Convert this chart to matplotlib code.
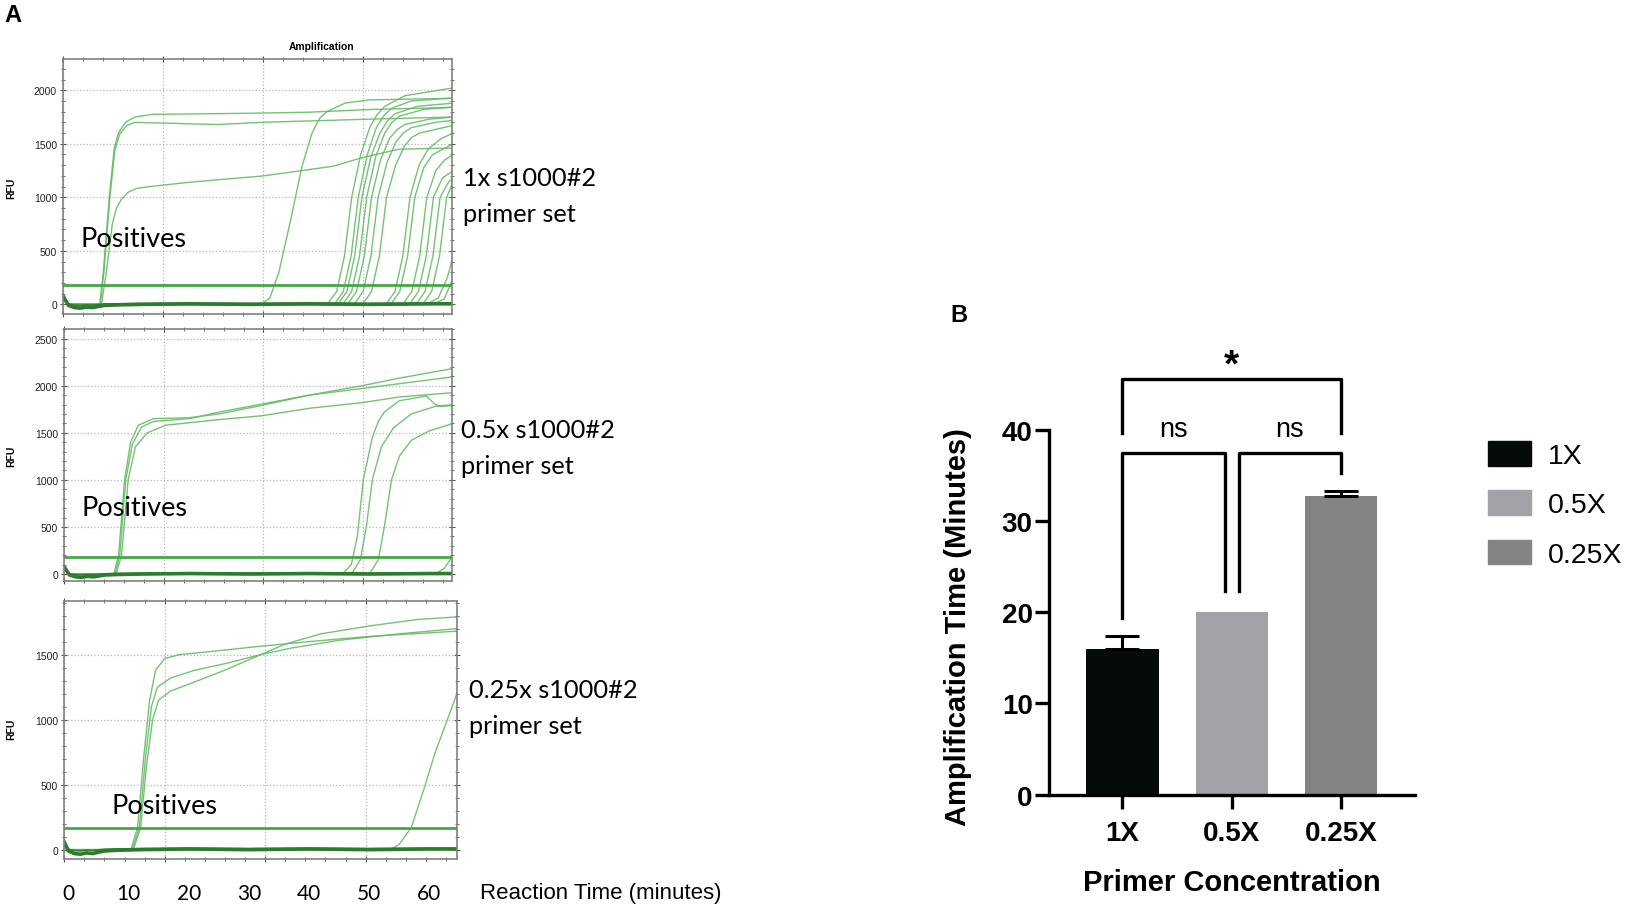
import numpy as np
import matplotlib
matplotlib.use('Agg')
import matplotlib.pyplot as plt
import matplotlib.transforms as mtransforms
from matplotlib.ticker import FixedLocator, MultipleLocator
from matplotlib.patches import Patch

# ---------------- data ----------------
# panel A: amplification curves as (minutes, RFU) points
curves_1x = [
    [(0, 0), (5.2, 0), (5.8, 300), (6.8, 1000), (7.6, 1450), (8.3, 1600), (9.5, 1700), (11, 1750), (14, 1775), (30, 1785), (40, 1795), (50, 1820), (64, 1840)],
    [(0, 0), (5.3, 0), (5.9, 300), (6.9, 1000), (7.7, 1430), (8.5, 1590), (9.7, 1670), (11, 1700), (18, 1690), (25, 1680), (32, 1700), (50, 1730), (64, 1750)],
    [(0, 0), (5.5, 0), (6.3, 300), (7.3, 750), (8, 900), (8.8, 980), (10, 1050), (11.5, 1085), (13.5, 1100), (20, 1140), (32.4, 1200), (44, 1290), (48.8, 1370), (55, 1450), (64, 1460)],
    [(0, 0), (32, 0), (33.5, 60), (35, 300), (37, 800), (38.8, 1280), (40.5, 1600), (41.8, 1740), (43, 1800), (46, 1880), (50, 1910), (64, 1925)],
    [(0, 0), (43, 0), (44.6, 120), (45.9, 450), (47.1, 1000), (48.6, 1400), (50.1, 1650), (51.3, 1770), (52.6, 1850), (56, 1950), (64, 2022)],
    [(0, 0), (44.2, 0), (45.7, 120), (47, 450), (48.2, 1000), (49.7, 1400), (51.2, 1650), (52.4, 1760), (53.7, 1830), (57, 1900), (64, 1928)],
    [(0, 0), (44.8, 0), (46.3, 120), (47.6, 450), (48.8, 1000), (50.3, 1380), (51.8, 1600), (53, 1710), (54.3, 1780), (58, 1850), (64, 1880)],
    [(0, 0), (45.6, 0), (47.1, 120), (48.4, 450), (49.6, 1000), (51.1, 1380), (52.6, 1600), (53.8, 1700), (55.1, 1760), (59, 1820), (64, 1844)],
    [(0, 0), (46.4, 0), (47.9, 120), (49.2, 450), (50.4, 1000), (51.9, 1350), (53.4, 1550), (54.6, 1630), (55.9, 1680), (60, 1730), (64, 1750)],
    [(0, 0), (47.5, 0), (49, 120), (50.3, 450), (51.5, 1000), (53, 1330), (54.5, 1520), (55.7, 1600), (57, 1650), (61, 1700), (64, 1720)],
    [(0, 0), (48.9, 0), (50.4, 120), (51.7, 450), (52.9, 1000), (54.4, 1300), (55.9, 1480), (57.1, 1560), (58.4, 1600), (64, 1672)],
    [(0, 0), (52.8, 0), (54.3, 120), (55.6, 450), (56.8, 1000), (58.3, 1300), (59.8, 1450), (62, 1550), (64, 1600)],
    [(0, 0), (53.6, 0), (55.1, 120), (56.4, 450), (57.6, 1000), (59.1, 1280), (60.6, 1400), (64, 1500)],
    [(0, 0), (55.6, 0), (57.1, 120), (58.4, 450), (59.6, 1000), (61.1, 1250), (62.6, 1350), (64, 1400)],
    [(0, 0), (56.7, 0), (58.2, 120), (59.5, 450), (60.7, 1000), (62.2, 1180), (64, 1250)],
    [(0, 0), (57.8, 0), (59.3, 120), (60.6, 450), (61.8, 1000), (63.3, 1150), (64, 1180)],
    [(0, 0), (58.9, 0), (60.4, 120), (61.7, 450), (62.9, 1000), (64, 1150)],
    [(0, 0), (59.5, 0), (61.5, 60), (63, 250), (64, 450)],
    [(0, 0), (60.5, 0), (62.5, 50), (64, 250)],
]
curves_05x = [
    [(0, 0), (7.4, 0), (8.2, 200), (9.2, 1000), (10.2, 1400), (11.5, 1580), (14, 1650), (20, 1660), (25, 1700), (32, 1790), (40, 1900), (48.8, 2000), (55, 2080), (64, 2183)],
    [(0, 0), (7.6, 0), (8.4, 200), (9.4, 1000), (10.5, 1380), (12, 1560), (14, 1620), (20, 1650), (25, 1720), (30, 1780), (40, 1900), (50, 1980), (64, 2095)],
    [(0, 0), (7.8, 0), (8.7, 200), (9.8, 1000), (11, 1350), (13, 1500), (16, 1580), (25, 1640), (32, 1680), (40, 1760), (48.8, 1820), (55, 1880), (64, 1926)],
    [(0, 0), (45.5, 0), (47, 100), (48, 400), (49, 1000), (50.5, 1450), (51.5, 1620), (52.5, 1720), (55, 1840), (59.5, 1890), (61, 1800), (62, 1780), (64, 1790)],
    [(0, 0), (47, 0), (48.5, 150), (49.5, 500), (50.5, 1000), (52, 1350), (54, 1550), (57, 1700), (61, 1780), (64, 1800)],
    [(0, 0), (50, 0), (51.5, 150), (52.5, 500), (53.7, 1000), (55, 1250), (57, 1420), (60, 1520), (64, 1600)],
    [(0, 0), (61, 0), (62.5, 60), (64, 200)],
]
curves_025x = [
    [(0, 0), (10.4, 0), (11.5, 170), (12.5, 700), (13.5, 1150), (14.5, 1380), (16, 1470), (18.5, 1500), (25, 1530), (31, 1560), (40, 1600), (50, 1640), (64.6, 1680)],
    [(0, 0), (10.6, 0), (11.8, 170), (12.8, 700), (13.8, 1100), (14.8, 1250), (17, 1320), (21, 1380), (26, 1430), (32, 1500), (36, 1580), (42, 1660), (50, 1720), (58, 1770), (64.6, 1790)],
    [(0, 0), (10.8, 0), (12, 170), (13, 650), (14, 1000), (15, 1150), (17, 1220), (21, 1290), (26, 1380), (32, 1500), (37, 1550), (45, 1610), (55, 1660), (64.6, 1700)],
    [(0, 0), (53.5, 0), (55, 40), (57, 170), (59, 450), (61, 750), (63, 1000), (64.6, 1200)],
]
# flat negatives / baseline drift near 0
base_t = [-0.8, 0, 1, 2, 3, 4, 5, 6, 8, 12, 20, 30, 40, 50, 60, 64.6]
base_rfu = [70, -10, -30, -35, -25, -30, -20, -10, -5, 0, 5, 0, 5, 0, 5, 5]
thresholds = [177, 177, 170]
panel_labels = ['1x s1000#2', '0.5x s1000#2', '0.25x s1000#2']
minute_ticks = [0, 10, 20, 30, 40, 50, 60]

# panel B: amplification time by primer concentration
conc = ['1X', '0.5X', '0.25X']
amp_time = [16.0, 20.0, 32.7]
amp_err = [1.4, 0.0, 0.6]
bar_colors = ['#060a0b', '#a2a2a7', '#838383']

# ---------------- layout helpers (pixel positions in the 1626x912 image) ----------------
W, H = 1626, 912


def box(x0, y0, x1, y1):
    return [x0 / W, 1 - y1 / H, (x1 - x0) / W, (y1 - y0) / H]


def fxy(x, y):
    return x / W, 1 - y / H


plt.rcParams['font.family'] = ['Liberation Sans', 'DejaVu Sans']
fig = plt.figure(figsize=(W / 100, H / 100), dpi=100)
fig.patch.set_facecolor('white')

green = '#66bb66'
thr_green = '#48a648'
dark_green = '#2b7d2b'

panels = [
    (box(63.3, 60.0, 452.1, 315.0), curves_1x, (-0.85, 63.8), (-90, 2292), 16.6, 2000),
    (box(64.3, 330.0, 452.1, 581.8), curves_05x, (-0.85, 63.8), (-72, 2602), 16.6, 2500),
    (box(64.3, 602.3, 456.8, 860.0), curves_025x, (-0.68, 64.57), (-72, 1910), 16.7, 1500),
]
axes_a = []
for i, (rect, curves, xl, yl, step, ymax) in enumerate(panels):
    ax = fig.add_axes(rect)
    for c in curves:
        t, v = zip(*c)
        ax.plot(t, v, color=green, lw=1.0, alpha=0.9)
    ax.axhline(thresholds[i], color=thr_green, lw=2.0)
    ax.plot(base_t, base_rfu, color=dark_green, lw=2.6)
    ax.plot(base_t, [b * 0.5 + 8 for b in base_rfu], color=dark_green, lw=1.2)
    ax.set_xlim(*xl)
    ax.set_ylim(*yl)
    ax.xaxis.set_major_locator(FixedLocator(np.arange(xl[0], xl[1], step)))
    ax.xaxis.set_minor_locator(FixedLocator(np.arange(xl[0], xl[1], step / 5)))
    ax.yaxis.set_major_locator(FixedLocator(np.arange(0, ymax + 1, 500)))
    ax.yaxis.set_minor_locator(MultipleLocator(100))
    ax.set_xticklabels([])
    ax.grid(True, which='major', ls=':', color='#b5b5b5', lw=0.9)
    ax.tick_params(which='both', direction='inout', top=True, right=True,
                   colors='#555555', labelcolor='#222222', labelsize=7.5, pad=2)
    ax.tick_params(which='major', length=5, width=0.8)
    ax.tick_params(which='minor', length=3, width=0.6)
    for s in ax.spines.values():
        s.set_color('#808080')
        s.set_linewidth(1.2)
    axes_a.append(ax)

fig.text(*fxy(4, 15), 'A', fontsize=17, fontweight='bold', va='center', ha='left')
fig.text(*fxy(322, 47), 'Amplification', fontsize=7.4, fontweight='bold', ha='center', va='center')
for y in [188, 456, 729]:
    fig.text(*fxy(11, y), 'RFU', fontsize=7.5, fontweight='bold', rotation=90, ha='center', va='center')

pos_xy = [(80, 240), (81, 509), (111, 807)]
for x, y in pos_xy:
    fig.text(*fxy(x, y), 'Positives', family='Lato', fontsize=19.5, ha='left', va='center')
lab_xy = [(463, 178), (461, 431), (469, 691)]
for (x, y), lab in zip(lab_xy, panel_labels):
    fig.text(*fxy(x, y), lab, family='Lato', fontsize=18.3, ha='left', va='center')
    fig.text(*fxy(x, y + 36), 'primer set', family='Lato', fontsize=18.3, ha='left', va='center')

ax3 = axes_a[2]
trans = mtransforms.blended_transform_factory(ax3.transData, fig.transFigure)
for t in minute_ticks:
    ax3.text(t, 1 - 894 / H, str(t), transform=trans, family='Lato', fontsize=15,
             ha='center', va='center', clip_on=False)
fig.text(*fxy(480, 894), 'Reaction Time (minutes)', fontsize=16, ha='left', va='center')

# ---------------- panel B ----------------
axb = fig.add_axes(box(1049.4, 430.8, 1415.5, 795.7))
x = np.arange(len(conc))
axb.bar(x, amp_time, width=0.663, color=bar_colors, zorder=2)
has_err = [i for i, e in enumerate(amp_err) if e > 0]
axb.errorbar([x[i] for i in has_err], [amp_time[i] for i in has_err],
             yerr=[[0] * len(has_err), [amp_err[i] for i in has_err]], fmt='none', ecolor='black',
             elinewidth=2.2, capsize=12, capthick=2.2, zorder=3)
axb.set_xlim(-0.668, 2.68)
axb.set_ylim(0, 40)
axb.spines['top'].set_visible(False)
axb.spines['right'].set_visible(False)
axb.spines['left'].set_bounds(0, 40)
for s in ['left', 'bottom']:
    axb.spines[s].set_linewidth(2.4)
axb.set_xticks(x)
axb.set_xticklabels(conc, fontsize=20, fontweight='bold')
axb.set_yticks([0, 10, 20, 30, 40])
axb.set_yticklabels(['0', '10', '20', '30', '40'], fontsize=20, fontweight='bold')
axb.tick_params(axis='x', length=10, width=2.4, pad=8)
axb.tick_params(axis='y', length=10, width=2.4, pad=2)

# significance brackets
lw_b = 2.4
axb.plot([0, 0, 2, 2], [39.6, 45.6, 45.6, 39.6], color='k', lw=lw_b, clip_on=False)
axb.plot([0, 0, 0.935, 0.935], [19.4, 37.5, 37.5, 22.3], color='k', lw=lw_b, clip_on=False)
axb.plot([1.065, 1.065, 2, 2], [22.3, 37.5, 37.5, 35.3], color='k', lw=lw_b, clip_on=False)
axb.text(1.0, 47.0, '*', fontsize=28, fontweight='bold', ha='center', va='center', clip_on=False)
axb.text(0.47, 40.1, 'ns', fontsize=19.5, ha='center', va='center', clip_on=False)
axb.text(1.53, 40.1, 'ns', fontsize=19.5, ha='center', va='center', clip_on=False)

fig.text(*fxy(959, 316), 'B', fontsize=17, fontweight='bold', ha='center', va='center')
fig.text(*fxy(1232, 883), 'Primer Concentration', fontsize=21, fontweight='bold', ha='center', va='center')
fig.text(*fxy(958, 627), 'Amplification Time (Minutes)', fontsize=21, fontweight='bold',
         rotation=90, ha='center', va='center')

handles = [Patch(color=c) for c in bar_colors]
fig.legend(handles, conc, loc='upper left', bbox_to_anchor=fxy(1488, 442), frameon=False,
           fontsize=20.5, handlelength=1.5, handleheight=0.95, handletextpad=0.6,
           labelspacing=0.75, borderpad=0, borderaxespad=0)

fig.savefig('out.png', dpi=100)
